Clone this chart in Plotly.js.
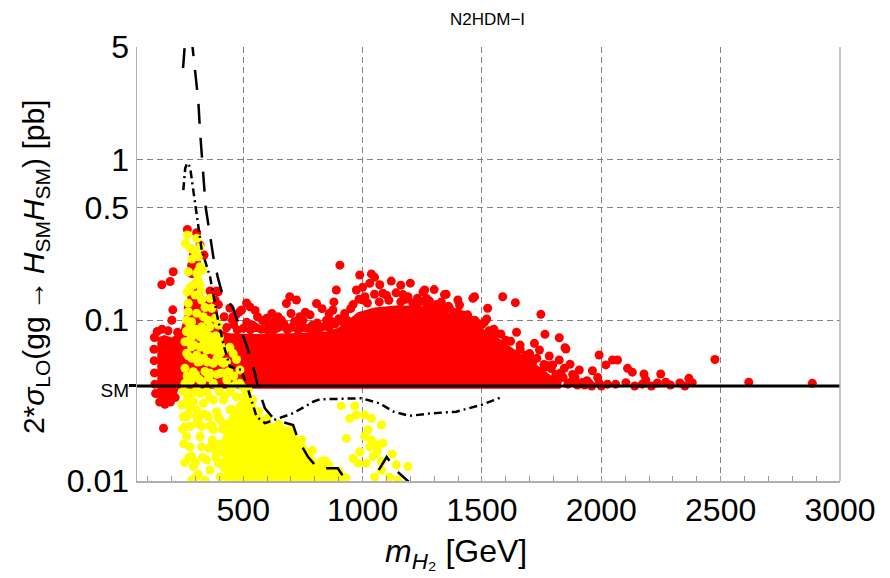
<!DOCTYPE html>
<html>
<head>
<meta charset="utf-8">
<script src="https://cdn.plot.ly/plotly-3.0.1.min.js"></script>
<style>html,body{margin:0;padding:0;background:#fff;}#chart{width:890px;height:578px;}</style>
</head>
<body>
<div id="chart"></div>
<script>
// ---------- data ----------
const SM = 0.039;
const xTickVals = [500, 1000, 1500, 2000, 2500, 3000];
const yTickVals = [0.01, SM, 0.1, 0.5, 1, 5];
const yTickText = ['0.01', '<span style="font-size:19px">SM</span>', '0.1', '0.5', '1', '5'];

// dense core of the red cloud (outline)
const redCoreM = [140,170,200,235,250,265,290,310,330,350,375,400,440,550,700,850,900,940,980,1050,1150,1250,1330,1400,1470,1540,1610,1690,1760,1800,1830,1830,230,215,190,160,140];
const redCoreV = [0.078,0.081,0.078,0.084,0.10,0.125,0.155,0.165,0.145,0.125,0.1,0.088,0.083,0.082,0.083,0.085,0.09,0.1,0.112,0.12,0.124,0.122,0.115,0.106,0.094,0.083,0.070,0.058,0.049,0.044,0.041,0.0375,0.0375,0.033,0.032,0.031,0.033];

// individual red points
const redM = [159,194,207,205,201,166,
  128,126,127,128,130,133,150,172,195,215,140,160,185,225,
  266,305,319,336,298,291,291,284,305,284,305,361,389,382,284,270,305,347,396,444,493,514,458,
  395,347,375,486,528,598,646,695,723,681,737,807,849,905,890,876,988,1037,974,1030,1072,1002,1085,1169,1253,1267,1343,1399,1462,1225,1288,1364,1406,1448,1420,
  1260,1350,1469,1587,1640,1524,1520,1747,1645,1764,1824,1852,1991,2047,2068,2110,1963,2019,2179,2249,2130,2367,2476,2618,2884,2329,2270,2235,2381,2172,2186,2103,2026,1991,1929,1866,1908,1869,1845,1824,1782,1796,1761,1712,1741,1685,1720,1848,
  430,460,500,540,575,610,640,670,700,740,775,810,845,870,900,925,950,560,620,760,830,660,
  1480,1560,1600,1660,1700,1780,1830,1890,1940,1960,2000,2060,2140,2210,2290,2350,
  455,475,515,530,555,590,600,625,655,685,715,730,755,790,800,825,860,885,915,935,
  420,470,550,580,630,700,750,780,860,880,
  960,985,1010,1050,1100,1140,1190,1230,1280,1310,1350,1380,1420,1450,1500,1530,
  1120,1160,1200,1300,1050,1000,1180,1330,
  1240,1270,1320,1360,1400,1440,1470,1510,1550,1580,1620,1660,1700,1730,1760,1790,1810,1840,1880,1920,
  1815,1860,1900,1950,1985,1800,1880,1930,
  1020,1070,1110,1160,1210];
const redV = [0.166,0.174,0.200,0.116,0.100,0.0213,
  0.078,0.066,0.056,0.047,0.040,0.035,0.031,0.030,0.031,0.033,0.085,0.088,0.086,0.084,
  0.367,0.350,0.293,0.254,0.226,0.195,0.254,0.22,0.226,0.195,0.169,0.152,0.152,0.1335,0.140,0.121,0.1157,0.113,0.125,0.119,0.1157,0.128,0.105,
  0.150,0.127,0.113,0.113,0.121,0.1027,0.105,0.140,0.1335,0.127,0.105,0.127,0.100,0.220,0.154,0.1157,0.191,0.194,0.154,0.1696,0.166,0.1335,0.147,0.1443,0.150,0.1368,0.1443,0.1335,0.1368,0.127,0.1213,0.1186,0.1243,0.1003,0.1077,
  0.154,0.145,0.140,0.140,0.1285,0.1186,0.1017,0.1088,0.0841,0.0817,0.0778,0.0662,0.0608,0.0566,0.0566,0.0502,0.0485,0.0527,0.0463,0.0463,0.0475,0.0435,0.057,0.0411,0.0405,0.0407,0.0411,0.0407,0.0409,0.040,0.0425,0.0409,0.040,0.0406,0.0409,0.0409,0.049,0.0532,0.0502,0.0566,0.0599,0.0527,0.0508,0.054,0.0653,0.0608,0.0718,0.0675,
  0.090,0.094,0.089,0.093,0.088,0.092,0.089,0.095,0.090,0.094,0.089,0.096,0.092,0.098,0.102,0.110,0.118,0.105,0.110,0.112,0.118,0.100,
  0.096,0.083,0.075,0.066,0.060,0.052,0.047,0.044,0.042,0.039,0.039,0.040,0.039,0.039,0.0395,0.039,
  0.100,0.087,0.097,0.087,0.090,0.098,0.087,0.086,0.091,0.087,0.098,0.087,0.090,0.093,0.086,0.090,0.090,0.095,0.098,0.100,
  0.105,0.108,0.115,0.100,0.098,0.110,0.100,0.108,0.110,0.130,
  0.125,0.135,0.140,0.145,0.143,0.148,0.140,0.137,0.132,0.125,0.118,0.112,0.106,0.100,0.094,0.086,
  0.175,0.165,0.170,0.155,0.185,0.160,0.135,0.130,
  0.130,0.125,0.118,0.122,0.112,0.108,0.100,0.097,0.088,0.082,0.074,0.070,0.062,0.058,0.053,0.050,0.046,0.044,0.042,0.041,
  0.041,0.040,0.0395,0.0405,0.044,0.043,0.046,0.0395,
  0.128,0.130,0.133,0.130,0.128];

// dense lower yellow region (outline)
const yellowCoreM = [424,411,436,478,528,553,582,632,695,737,779,812,883,921,938];
const yellowCoreV = [0.0085,0.018,0.0246,0.031,0.0338,0.0293,0.0246,0.0226,0.0214,0.0185,0.0156,0.0131,0.0117,0.0104,0.0085];

// individual yellow points
const yellowM = [
  266,305,319,312,319,305,330,291,319,298,270,326,361,368,270,305,333,382,284,270,326,361,396,284,319,347,256,375,284,347,389,263,305,403,319,375,256,417,291,361,403,256,326,375,431,270,305,347,396,452,486,243,291,333,375,417,472,514,
  263,305,347,389,444,500,277,326,368,417,472,528,444,472,486,458,
  249,256,263,277,284,291,284,305,319,326,347,361,340,375,382,396,403,354,403,305,277,424,436,369,306,
  450,500,540,565,600,650,700,745,790,830,860,900,930,415,420,412,846,
  911,967,946,974,1009,1037,1079,1023,932,1009,1037,1085,1064,988,1030,1125,960,981,1044,1079,1141,1190,1079,1051,1113,1148,1016,1062,
  258,280,295,285,270,278,265,310,322,340,352,262,275,298,312,340,355,370,385,400,262,275,295,320,335,360,375,405,420,270,285,310,335,350,390,410,430,265,280,300,315,340,355,390,415,440,460,250,265,285,320,360,400,425,445,470,500,520,
  245,250,255,270,272,300,312,312,335,330,355,360,370,385,395,400,410];
const yellowV = [
  0.339,0.323,0.2865,0.248,0.215,0.1957,0.205,0.1656,0.1656,0.1434,0.1274,0.1335,0.1368,0.1186,0.1129,0.1104,0.105,0.1027,0.0979,0.0869,0.0911,0.0911,0.0934,0.0789,0.0789,0.0771,0.0735,0.0735,0.0684,0.0653,0.0684,0.0622,0.0608,0.0622,0.0552,0.054,0.0502,0.054,0.0478,0.0468,0.0468,0.0405,0.0415,0.0405,0.0425,0.0351,0.0368,0.0359,0.0368,0.0386,0.0405,0.0297,0.0311,0.0304,0.0319,0.0319,0.0334,0.0341,
  0.0251,0.0251,0.0257,0.027,0.0276,0.0286,0.0218,0.0218,0.0223,0.0228,0.0234,0.0239,0.068,0.057,0.049,0.062,
  0.0251,0.0218,0.0189,0.0163,0.0142,0.0123,0.0101,0.0228,0.0189,0.0163,0.0135,0.0117,0.0101,0.0208,0.0156,0.0129,0.0106,0.0251,0.0239,0.0276,0.029,0.0166,0.0117,0.0166,0.0107,
  0.028,0.033,0.032,0.027,0.0245,0.0225,0.021,0.018,0.0155,0.0133,0.0125,0.0115,0.0105,0.015,0.012,0.021,0.0133,
  0.0293,0.0293,0.0245,0.0257,0.0257,0.0245,0.0223,0.0208,0.0184,0.0189,0.018,0.0172,0.0168,0.0152,0.0163,0.0147,0.0138,0.0129,0.0142,0.0132,0.0126,0.0123,0.0117,0.0106,0.0106,0.0101,0.0129,0.0152,
  0.30,0.28,0.27,0.24,0.20,0.16,0.15,0.18,0.15,0.12,0.10,0.10,0.095,0.088,0.083,0.085,0.080,0.078,0.080,0.078,0.085,0.075,0.070,0.068,0.072,0.070,0.065,0.070,0.065,0.060,0.058,0.055,0.058,0.055,0.058,0.055,0.055,0.045,0.042,0.046,0.043,0.048,0.044,0.046,0.047,0.048,0.045,0.036,0.032,0.035,0.035,0.033,0.036,0.034,0.036,0.040,0.038,0.037,
  0.021,0.017,0.013,0.026,0.014,0.013,0.024,0.011,0.026,0.014,0.016,0.022,0.018,0.014,0.025,0.017,0.013];

// dashed limit curve
const dashM = [248,256,262,275,288,298,312,319,326,332,337,343,365,375,393,410,458,479,514,528,549,563,591,632,709,730,772,812,896,938,1010,1063,1101,1147,1193,1250];
const dashV = [3.7,5.0,7,7.5,5.1,3.77,2.29,1.5,1.07,0.84,0.645,0.5,0.308,0.246,0.186,0.150,0.1186,0.096,0.070,0.059,0.0468,0.0377,0.0283,0.024,0.0223,0.018,0.0141,0.012,0.012,0.0097,0.004,0.0114,0.0141,0.0114,0.0099,0.006];

// dot-dashed limit curve
const dashDotM = [249,257,265,277,326,361,389,416,444,493,521,556,591,632,709,793,821,995,1071,1130,1197,1281,1392,1497,1587];
const dashDotV = [0.645,0.88,0.95,0.9,0.273,0.186,0.110,0.0718,0.0514,0.049,0.0368,0.0251,0.0229,0.024,0.0264,0.0311,0.0322,0.0327,0.0304,0.027,0.0254,0.0263,0.027,0.0297,0.0334];

const smLineM = [55, 3000];
const smLineV = [SM, SM];

// ---------- drawing ----------
const RED = 'rgb(255,0,0)';
const YEL = 'rgb(255,255,0)';
const MS = 9;
const FONT = 'Liberation Sans, Arial, Helvetica, sans-serif';

const traces = [
  {x: redCoreM, y: redCoreV, type: 'scatter', mode: 'lines', fill: 'toself', fillcolor: RED, line: {width: 0, color: RED}, hoverinfo: 'skip'},
  {x: redM, y: redV, type: 'scatter', mode: 'markers', marker: {color: RED, size: MS, line: {width: 0}}},
  {x: yellowCoreM, y: yellowCoreV, type: 'scatter', mode: 'lines', fill: 'toself', fillcolor: YEL, line: {width: 0, color: YEL}, hoverinfo: 'skip'},
  {x: yellowM, y: yellowV, type: 'scatter', mode: 'markers', marker: {color: YEL, size: MS, line: {width: 0}}},
  {x: smLineM, y: smLineV, type: 'scatter', mode: 'lines', yaxis: 'y2', line: {color: '#000', width: 3}},
  {x: dashDotM, y: dashDotV, type: 'scatter', mode: 'lines', line: {color: '#000', width: 2.5, dash: '8px,4px,2px,4px'}},
  {x: dashM, y: dashV, type: 'scatter', mode: 'lines', line: {color: '#000', width: 2.5, dash: '20px,14px'}}
];

const layout = {
  width: 890, height: 578,
  margin: {l: 137, r: 50, t: 47, b: 97},
  paper_bgcolor: '#fff', plot_bgcolor: '#fff',
  showlegend: false,
  font: {family: FONT, color: '#000'},
  xaxis: {
    range: [55, 3000], tickvals: xTickVals, ticktext: xTickVals.map(String),
    showgrid: true, gridcolor: '#808080', griddash: '6px,4px', gridwidth: 1,
    showline: true, linecolor: '#b0b0b0', linewidth: 1.5,
    ticks: 'inside', ticklen: 5, tickcolor: '#999', tickwidth: 1,
    minor: {dtick: 100, tick0: 0, ticks: 'inside', ticklen: 5, tickcolor: '#999', tickwidth: 1, showgrid: false},
    tickfont: {size: 32, family: FONT, color: '#000'},
    zeroline: false, fixedrange: true
  },
  yaxis: {
    type: 'log', range: [-2, Math.log10(5)],
    tickvals: yTickVals, ticktext: yTickText,
    showgrid: true, gridcolor: '#808080', griddash: '6px,4px', gridwidth: 1,
    showline: true, linecolor: '#b0b0b0', linewidth: 1.5,
    ticks: '', ticklabelstandoff: 0,
    tickfont: {size: 32, family: FONT, color: '#000'},
    zeroline: false, fixedrange: true
  },
  yaxis2: {
    type: 'log', range: [-2, Math.log10(5)], overlaying: 'y', side: 'left',
    tickvals: [SM], ticks: 'outside', ticklen: 7, tickwidth: 3, tickcolor: '#000',
    showticklabels: false, showgrid: false, showline: false, zeroline: false, fixedrange: true
  },
  shapes: [
    {type: 'line', xref: 'paper', yref: 'paper', x0: 1, x1: 1, y0: 0, y1: 1, line: {color: '#b0b0b0', width: 1.5}}
  ],
  annotations: [
    {text: 'N2HDM\u2212I', xref: 'paper', yref: 'paper', x: 0.499, y: 1.064, xanchor: 'center', yanchor: 'middle', showarrow: false, font: {size: 17, family: FONT, color: '#000'}},
    {text: '<i>m</i><sub><i>H</i>\u2082</sub> [GeV]', xref: 'paper', yref: 'paper', x: 0.454, y: -0.166, xanchor: 'center', yanchor: 'middle', showarrow: false, font: {size: 32, family: FONT, color: '#000'}},
    {text: '2*<i>\u03c3</i><sub>LO</sub>(gg\u2009\u2192\u2009<i>H</i><sub>SM</sub><i>H</i><sub>SM</sub>) [pb]', xref: 'paper', yref: 'paper', x: -0.145, y: 0.493, xanchor: 'center', yanchor: 'middle', textangle: -90, showarrow: false, font: {size: 30, family: FONT, color: '#000'}}
  ]
};

Plotly.newPlot('chart', traces, layout, {staticPlot: true, displayModeBar: false});
</script>
</body>
</html>
